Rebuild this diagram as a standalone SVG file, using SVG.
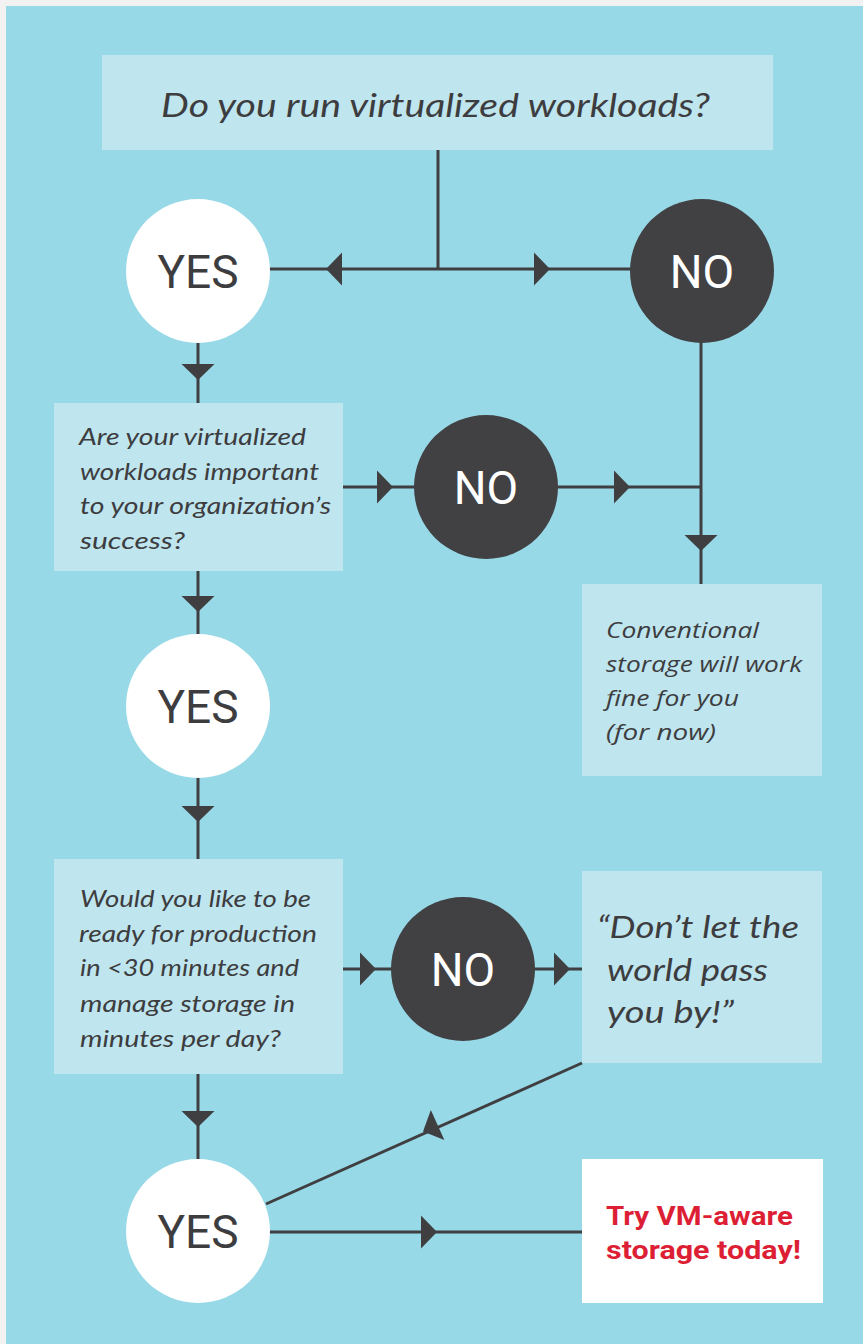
<svg xmlns="http://www.w3.org/2000/svg" xmlns:xlink="http://www.w3.org/1999/xlink" width="863" height="1344" viewBox="0 0 863 1344">
<style>
.panel{fill:#98d9e7}
.box{fill:#bfe5ef}
.yes{fill:#ffffff}
.no{fill:#414144}
.q{font-family:Lato,"Open Sans",sans-serif;font-style:italic;fill:#3d3d40}
.q1{font-size:32px}
.q2{font-size:23px}
.q3{font-size:31px}
.c{font-family:"Open Sans",Lato,sans-serif;font-style:italic;font-size:22px;fill:#3d3d40}
.yt{font-family:Roboto,"Liberation Sans",sans-serif;font-size:46px;fill:#3d3d40;text-anchor:middle}
.nt{font-family:Roboto,"Liberation Sans",sans-serif;font-size:46px;fill:#ffffff;text-anchor:middle}
.cta{font-family:Roboto,"Liberation Sans",sans-serif;font-weight:bold;font-size:25px;fill:#dd1f35}
.ln{stroke:#3f3f42;stroke-width:3;fill:none}
.ah{fill:#3f3f42}
</style>
<defs>
<path id="ah" d="M0,0 L-16,-16.5 L-16,16.5 Z"/>
</defs>
<rect x="0" y="0" width="863" height="1344" fill="#f2f2f2"/>
<rect class="panel" x="6" y="6" width="857" height="1338"/>

<g id="connectors">
<line class="ln" x1="438" y1="150" x2="438" y2="269"/>
<line class="ln" x1="268" y1="269" x2="632" y2="269"/>
<line class="ln" x1="198" y1="342" x2="198" y2="404"/>
<line class="ln" x1="342" y1="487" x2="416" y2="487"/>
<line class="ln" x1="556" y1="487" x2="701" y2="487"/>
<line class="ln" x1="701" y1="342" x2="701" y2="585"/>
<line class="ln" x1="198" y1="570" x2="198" y2="635"/>
<line class="ln" x1="198" y1="777" x2="198" y2="860"/>
<line class="ln" x1="342" y1="969" x2="392" y2="969"/>
<line class="ln" x1="534" y1="969" x2="583" y2="969"/>
<line class="ln" x1="582" y1="1063" x2="266" y2="1204"/>
<line class="ln" x1="198" y1="1073" x2="198" y2="1160"/>
<line class="ln" x1="268" y1="1232" x2="583" y2="1232"/>
<use class="ah" xlink:href="#ah" transform="translate(326,269) rotate(180)"/>
<use class="ah" xlink:href="#ah" transform="translate(550,269)"/>
<use class="ah" xlink:href="#ah" transform="translate(198,380) rotate(90)"/>
<use class="ah" xlink:href="#ah" transform="translate(393,487)"/>
<use class="ah" xlink:href="#ah" transform="translate(630,487)"/>
<use class="ah" xlink:href="#ah" transform="translate(701,551) rotate(90)"/>
<use class="ah" xlink:href="#ah" transform="translate(198,612) rotate(90)"/>
<use class="ah" xlink:href="#ah" transform="translate(198,822) rotate(90)"/>
<use class="ah" xlink:href="#ah" transform="translate(376,969)"/>
<use class="ah" xlink:href="#ah" transform="translate(570,969)"/>
<use class="ah" xlink:href="#ah" transform="translate(423,1131.5) rotate(155.9)"/>
<use class="ah" xlink:href="#ah" transform="translate(198,1127) rotate(90)"/>
<use class="ah" xlink:href="#ah" transform="translate(437,1232)"/>
</g>

<g id="q-virtualized">
<rect class="box" x="102" y="55" width="671" height="95"/>
<text class="q q1" x="161" y="117" textLength="549" lengthAdjust="spacingAndGlyphs">Do you run virtualized workloads?</text>
</g>

<g id="yes1">
<circle class="yes" cx="198" cy="271" r="72"/>
<text class="yt" x="198" y="288">YES</text>
</g>

<g id="no1">
<circle class="no" cx="702" cy="271" r="72"/>
<text class="nt" x="702" y="288">NO</text>
</g>

<g id="q-important">
<rect class="box" x="54" y="403" width="289" height="168"/>
<text class="q q2" x="79" y="445" textLength="227" lengthAdjust="spacingAndGlyphs">Are your virtualized</text>
<text class="q q2" x="80" y="480" textLength="239" lengthAdjust="spacingAndGlyphs">workloads important</text>
<text class="q q2" x="80" y="514" textLength="251" lengthAdjust="spacingAndGlyphs">to your organization’s</text>
<text class="q q2" x="80" y="549" textLength="105" lengthAdjust="spacingAndGlyphs">success?</text>
</g>

<g id="no2">
<circle class="no" cx="486" cy="487" r="72"/>
<text class="nt" x="486" y="504">NO</text>
</g>

<g id="conventional">
<rect class="box" x="582" y="584" width="240" height="192"/>
<text class="c" x="606" y="638" textLength="153" lengthAdjust="spacingAndGlyphs">Conventional</text>
<text class="c" x="606" y="672" textLength="196" lengthAdjust="spacingAndGlyphs">storage will work</text>
<text class="c" x="606" y="706" textLength="133" lengthAdjust="spacingAndGlyphs">fine for you</text>
<text class="c" x="606" y="740" textLength="110" lengthAdjust="spacingAndGlyphs">(for now)</text>
</g>

<g id="yes2">
<circle class="yes" cx="198" cy="706" r="72"/>
<text class="yt" x="198" y="723">YES</text>
</g>

<g id="q-production">
<rect class="box" x="54" y="859" width="289" height="215"/>
<text class="q q2" x="80" y="907" textLength="231" lengthAdjust="spacingAndGlyphs">Would you like to be</text>
<text class="q q2" x="79" y="942" textLength="238" lengthAdjust="spacingAndGlyphs">ready for production</text>
<text class="q q2" x="80" y="976" textLength="219" lengthAdjust="spacingAndGlyphs">in &lt;30 minutes and</text>
<text class="q q2" x="80" y="1012" textLength="215" lengthAdjust="spacingAndGlyphs">manage storage in</text>
<text class="q q2" x="80" y="1047" textLength="201" lengthAdjust="spacingAndGlyphs">minutes per day?</text>
</g>

<g id="no3">
<circle class="no" cx="463" cy="969" r="72"/>
<text class="nt" x="463" y="986">NO</text>
</g>

<g id="dont-let">
<rect class="box" x="582" y="871" width="240" height="192"/>
<text class="q q3" x="597" y="938" textLength="202" lengthAdjust="spacingAndGlyphs">“Don’t let the</text>
<text class="q q3" x="607" y="981" textLength="161" lengthAdjust="spacingAndGlyphs">world pass</text>
<text class="q q3" x="607" y="1023" textLength="127" lengthAdjust="spacingAndGlyphs">you by!”</text>
</g>

<g id="yes3">
<circle class="yes" cx="198" cy="1231" r="72"/>
<text class="yt" x="198" y="1248">YES</text>
</g>

<g id="try">
<rect x="582" y="1159" width="241" height="144" fill="#ffffff"/>
<text class="cta" x="606" y="1225" textLength="187" lengthAdjust="spacingAndGlyphs">Try VM-aware</text>
<text class="cta" x="606" y="1259" textLength="195" lengthAdjust="spacingAndGlyphs">storage today!</text>
</g>
</svg>
